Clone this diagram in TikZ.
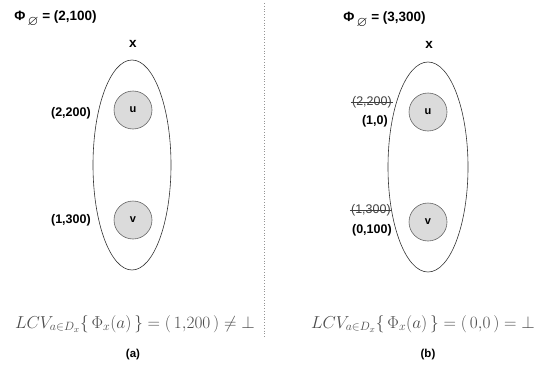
\documentclass[tikz,border=0pt]{standalone}
\usepackage{amssymb}
\usepackage{fontspec}
\setmainfont{Liberation Sans}
\usetikzlibrary{positioning}
\definecolor{c1}{rgb}{0.86, 0.86, 0.86}
\definecolor{c2}{rgb}{0.40, 0.40, 0.40}
\newcommand{\phinull}{Φ\,\raisebox{-0.4em}{\fontsize{14}{16}\selectfont$\varnothing$}}
\tikzstyle{every node}=[inner sep=0.1em]
\tikzstyle{vertex}=[circle, draw=c2, fill=c1, minimum size=38pt, inner sep=0pt, font=\fontsize{11}{13}\selectfont\bfseries]
\tikzset{
  varset/.style={draw=black!80, line width=0.6pt},
  val/.style={anchor=east, font=\fontsize{12.5}{14}\selectfont\bfseries},
  oldval/.style={anchor=east, font=\fontsize{12.5}{14}\selectfont, text=black!75},
  strike/.style={line width=0.5pt, black!75},
  head/.style={anchor=base west, font=\fontsize{13.5}{16}\selectfont\bfseries},
  lcv/.style={anchor=base, text=black!70, font=\fontsize{17.5}{20}\selectfont},
  caption/.style={font=\fontsize{11.5}{13}\selectfont\bfseries},
}

\begin{document}
\begin{tikzpicture}[x=1pt, y=-1pt]
	\useasboundingbox (0,0) rectangle (538,372);
	\pgfsetlinewidth{0.6pt}

	\draw[c2!70, dotted, line width=0.8pt] (264,3) -- (264,338);

	% (a)
	\node[head] (phiA) at (13,20) {\phinull{} = (2,100)};
	\node[head, anchor=base] (xA) at (133,47) {x};
	\draw[varset] (132,165) ellipse (39 and 105);
	\node[vertex] (uA) at (133,110) {u};
	\node[vertex] (vA) at (133,220) {v};
	\node[val] (uvalA) at (92,113) {(2,200)};
	\node[val] (vvalA) at (92,220) {(1,300)};
	\node[lcv] (lcvA) at (135,328) {$LCV_{a\in D_x}\{\,\Phi_x(a)\,\}=(\,1{,}200\,)\neq\bot$};
	\node[caption] (capA) at (133,355) {(a)};

	% (b)
	\node[head] (phiB) at (342,21) {\phinull{} = (3,300)};
	\node[head, anchor=base] (xB) at (429,48) {x};
	\draw[varset] (428,167) ellipse (40 and 105);
	\node[vertex] (uB) at (428,112) {u};
	\node[vertex] (vB) at (428,222) {v};
	\node[oldval] (uoldB) at (393,102) {(2,200)};
	\node[val] (uvalB) at (389,121) {(1,0)};
	\node[oldval] (voldB) at (392,210) {(1,300)};
	\node[val] (vvalB) at (393,230) {(0,100)};
	\draw[strike] (uoldB.west) -- (uoldB.east);
	\draw[strike] (voldB.west) -- (voldB.east);
	\node[lcv] (lcvB) at (423,328) {$LCV_{a\in D_x}\{\,\Phi_x(a)\,\}=(\,0{,}0\,)=\bot$};
	\node[caption] (capB) at (428,355) {(b)};

\end{tikzpicture}
\end{document}
